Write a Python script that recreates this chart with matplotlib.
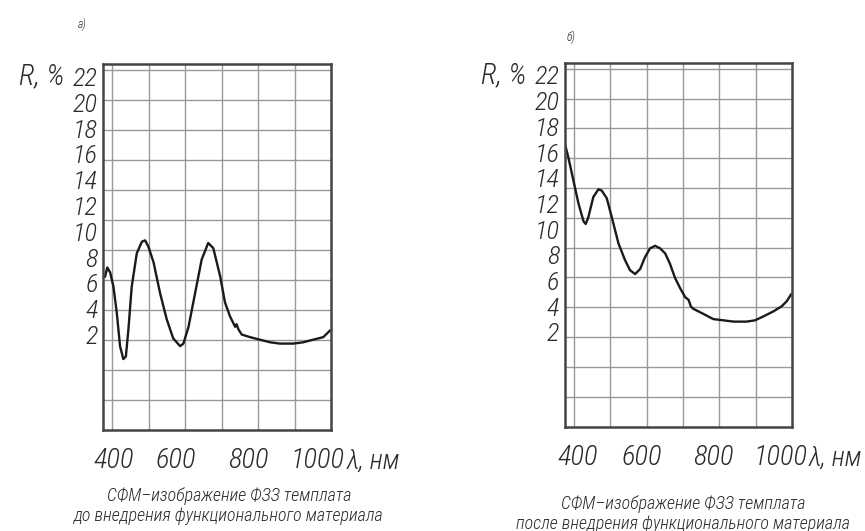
import matplotlib.pyplot as plt
import numpy as np

################################################################################

# DATA
wl_a = [380, 386, 394, 403, 412, 421, 430, 437, 444, 453, 467, 481, 490, 499,
        513, 531, 549, 567, 586, 595, 609, 627, 645, 663, 677, 696, 709, 723,
        737, 741, 746, 755, 778, 805, 833, 860, 897, 924, 951, 979, 997]
r_a = [6.5, 7.2, 6.8, 5.7, 3.7, 1.1, 0.1, 0.3, 2.4, 5.7, 8.3, 9.2, 9.3, 8.8,
       7.6, 5.2, 3.2, 1.7, 1.1, 1.3, 2.6, 5.2, 7.8, 9.1, 8.7, 6.5, 4.5, 3.4,
       2.6, 2.8, 2.4, 2.0, 1.8, 1.6, 1.4, 1.3, 1.3, 1.4, 1.6, 1.8, 2.3]

wl_b = [375, 384, 398, 412, 426, 432, 439, 453, 467, 476, 490, 504, 522, 540,
        554, 568, 582, 595, 609, 623, 637, 651, 664, 678, 692, 706, 715, 719,
        721, 728, 756, 783, 811, 839, 875, 898, 921, 949, 972, 986, 997]
r_b = [16.6, 15.6, 13.8, 12.0, 10.6, 10.4, 10.9, 12.5, 13.1, 13.0, 12.4, 10.9,
       8.9, 7.6, 6.8, 6.5, 6.9, 7.8, 8.5, 8.7, 8.5, 8.1, 7.3, 6.2, 5.4, 4.7,
       4.5, 4.2, 4.0, 3.8, 3.4, 3.0, 2.9, 2.8, 2.8, 2.9, 3.2, 3.6, 4.0, 4.4, 4.9]

y_ticks = [22, 20, 18, 16, 14, 12, 10, 8, 6, 4, 2]
x_labels = ["400", "600", "800", "1000"]
x_label_pos_a = [404, 573, 773, 963]
x_label_pos_b = [410, 587, 783, 968]

captions = [
    "СФМ–изображение ФЗЗ темплата\nдо внедрения функционального материала",
    "СФМ–изображение ФЗЗ темплата\nпосле внедрения функционального материала",
]

################################################################################

plt.rcParams['font.family'] = ['Roboto Condensed', 'DejaVu Sans']
plt.rcParams['font.style'] = 'italic'
plt.rcParams['font.weight'] = 'light'
ink = "#2b2b2b"

fig = plt.figure(figsize=(8.65, 5.31), dpi=100)
ax_a = fig.add_axes([0.1194, 0.1902, 0.2632, 0.6887])
ax_b = fig.add_axes([0.6532, 0.1959, 0.2624, 0.6860])


def draw_panel(ax, wl, r, label_pos, letter, letter_off, lam_off):
    ax.set_xlim(375, 1000)
    ax.set_ylim(-5.4, 22.95)

    # grid (drawn on minor ticks, independent of the labels)
    ax.set_xticks(np.arange(400, 1000, 100), minor=True)
    ax.set_yticks(np.arange(22.48, -3.5, -2.32), minor=True)
    ax.grid(True, which="minor", color="#999999", linewidth=1.0)
    ax.tick_params(which="minor", length=0)

    ax.set_yticks(y_ticks)
    ax.set_yticklabels([str(v) for v in y_ticks])
    ax.set_xticks(label_pos)
    ax.set_xticklabels(x_labels)
    ax.tick_params(axis="y", which="major", length=0, pad=4,
                   labelsize=19, labelcolor=ink)
    ax.tick_params(axis="x", which="major", length=0, pad=12.5,
                   labelsize=20.5, labelcolor=ink)

    for s in ax.spines.values():
        s.set_color("#444444")
        s.set_linewidth(1.8)

    ax.plot(wl, r, color="#1a1a1a", linewidth=1.7, solid_joinstyle="round")

    ax.annotate("R, %", xy=(0, 22), xycoords=("axes fraction", "data"),
                xytext=(-28, 0), textcoords="offset points",
                ha="right", va="center", fontsize=21, color=ink)
    ax.annotate("λ, нм", xy=(1, 0), xycoords="axes fraction",
                xytext=(lam_off, -22.5), textcoords="offset points",
                ha="left", va="center", fontsize=19.5, color=ink)
    ax.annotate(letter, xy=(0, 1), xycoords="axes fraction",
                xytext=letter_off, textcoords="offset points",
                ha="center", va="center", fontsize=8.5, color=ink)


draw_panel(ax_a, wl_a, r_a, x_label_pos_a, "а)", (-15, 29), 11.5)
draw_panel(ax_b, wl_b, r_b, x_label_pos_b, "б)", (4.5, 18), 12)

fig.text(229 / 865, 1 - 506 / 531, captions[0], ha="center", va="center",
         fontsize=13, color=ink, linespacing=1.1)
fig.text(683 / 865, 1 - 514 / 531, captions[1], ha="center", va="center",
         fontsize=13, color=ink, linespacing=1.1)

fig.savefig("out.png", dpi=100, facecolor="white")
